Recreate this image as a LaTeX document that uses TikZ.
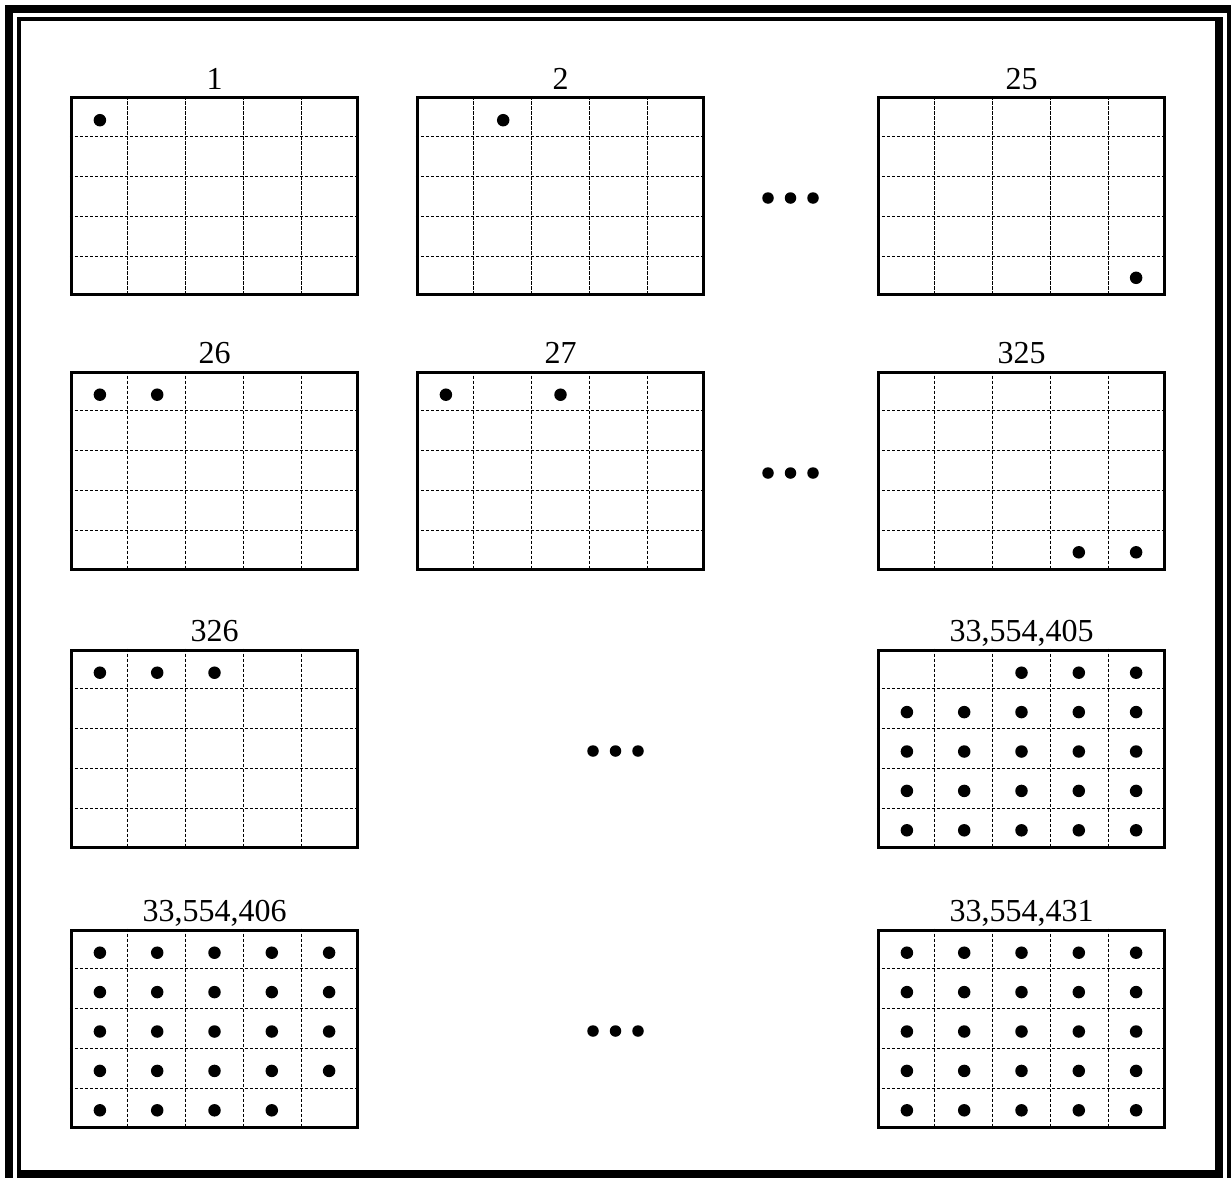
\documentclass[tikz,border=0pt]{standalone}
\usepackage{fontspec}
\setmainfont{Liberation Serif}
\usetikzlibrary{positioning,calc}

\begin{document}
\begin{tikzpicture}[x=1pt, y=-1pt, font=\fontsize{32}{32}\selectfont,
    board/.style={rectangle, draw, line width=3pt, minimum width=286.5pt, minimum height=197pt, inner sep=0pt},
    gridline/.style={line width=0.9pt, dash pattern=on 3.5pt off 1.5pt},
    caption/.style={anchor=base, inner sep=0pt},
    token/.style={circle, fill, inner sep=0pt, minimum size=12.5pt},
    more/.style={circle, fill, inner sep=0pt, minimum size=11.5pt}]
    \useasboundingbox (0,0) rectangle (1231,1178);
    % page frame
    \fill (5,5) rectangle (1231,13);
    \fill (5,5) rectangle (13,1178);
    \fill (1227,5) rectangle (1231,1178);
    \fill (17,17) rectangle (1223,21);
    \fill (17,17) rectangle (21,1178);
    \fill (1215,17) rectangle (1223,1178);
    \fill (17,1170) rectangle (1223,1178);
    % boards with their numbers
    \foreach \n/\x/\y/\t in {b1/214.5/196/1, b2/560.5/196/2, b25/1021.5/196/25,
        b26/214.5/470.5/26, b27/560.5/470.5/27, b325/1021.5/470.5/325,
        b326/214.5/748.5/326, b405/1021.5/748.5/{33,554,405},
        b406/214.5/1028.5/{33,554,406}, b431/1021.5/1028.5/{33,554,431}} {
        \node[board] (\n) at (\x,\y) {};
        \node[caption] (\n-t) at ($(\n.north)+(0,-7)$) {\t};
        \foreach \i in {1,...,4} {
            \draw[gridline] ($(\n.north west)!\i/5!(\n.north east)$) -- ($(\n.south west)!\i/5!(\n.south east)$);
            \draw[gridline] ($(\n.north west)!\i/5!(\n.south west)$) -- ($(\n.north east)!\i/5!(\n.south east)$);
        }
    }
    % sparse boards
    \foreach \n/\r/\c in {b1/0/0, b2/0/1, b25/4/4, b26/0/0, b26/0/1, b27/0/0, b27/0/2,
        b325/4/3, b325/4/4, b326/0/0, b326/0/1, b326/0/2}
        \node[token] (\n-\r\c) at ($(\n)+({(\c-2)*57.3},{(\r-2)*39.4+3})$) {};
    % full boards
    \foreach \r in {0,...,4} {
        \foreach \c in {0,...,4} {
            \pgfmathtruncatemacro\k{5*\r+\c}
            \node[token] (b431-\r\c) at ($(b431)+({(\c-2)*57.3},{(\r-2)*39.4+3})$) {};
            \ifnum\k>1 \node[token] (b405-\r\c) at ($(b405)+({(\c-2)*57.3},{(\r-2)*39.4+3})$) {};\fi
            \ifnum\k<24 \node[token] (b406-\r\c) at ($(b406)+({(\c-2)*57.3},{(\r-2)*39.4+3})$) {};\fi
        }
    }
    % ellipses
    \foreach \e/\x/\y in {e1/790.5/198, e2/790.5/473, e3/615.5/751, e4/615.5/1031}
        \foreach \k in {-1,0,1}
            \node[more] (\e\k) at (\x+22.5*\k,\y) {};
\end{tikzpicture}
\end{document}
